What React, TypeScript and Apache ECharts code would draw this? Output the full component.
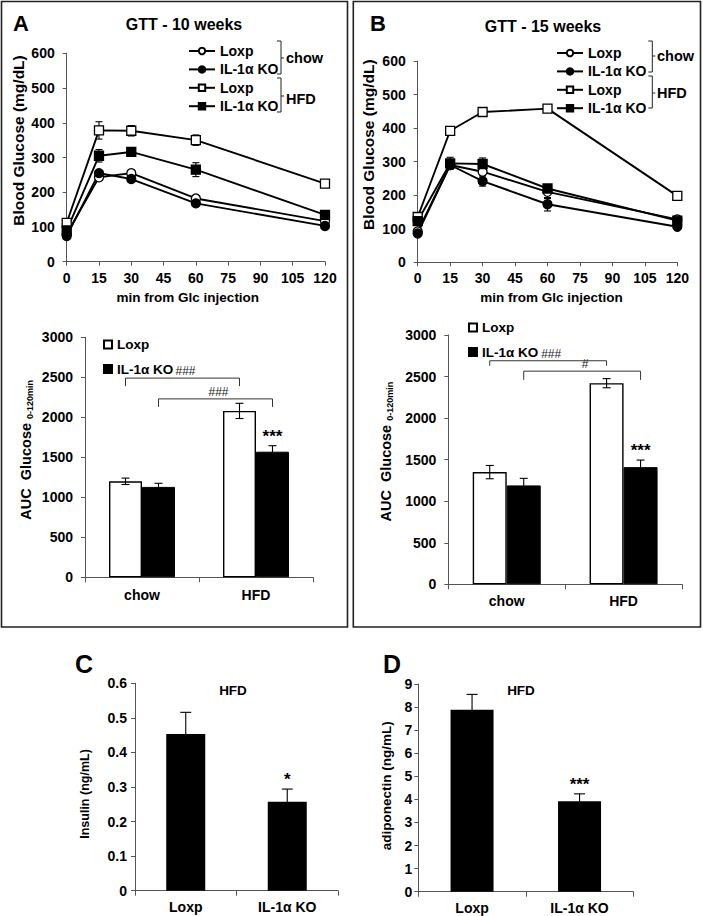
import React, { useEffect, useRef } from 'react';
import * as echarts from 'echarts';

// ---------------- data ----------------
const timePoints = [0, 15, 30, 60, 120];

const gtt10LoxpChow = [80, 243, 255, 182, 117];
const gtt10LoxpChowErr = [4, 8, 10, 6, 5];
const gtt10KoChow = [74, 255, 238, 168, 103];
const gtt10KoChowErr = [4, 7, 8, 8, 5];
const gtt10LoxpHfd = [112, 378, 377, 350, 225];
const gtt10LoxpHfdErr = [5, 25, 15, 15, 6];
const gtt10KoHfd = [90, 305, 316, 265, 135];
const gtt10KoHfdErr = [5, 18, 6, 20, 6];

const gtt15LoxpChow = [92, 290, 270, 210, 128];
const gtt15LoxpChowErr = [5, 10, 10, 20, 5];
const gtt15KoChow = [86, 290, 242, 173, 106];
const gtt15KoChowErr = [5, 10, 15, 20, 5];
const gtt15LoxpHfd = [135, 392, 448, 458, 198];
const gtt15LoxpHfdErr = [5, 10, 5, 5, 6];
const gtt15KoHfd = [123, 295, 293, 220, 124];
const gtt15KoHfdErr = [8, 18, 18, 8, 6];

const dietGroups = ['chow', 'HFD'];
const auc10Loxp = [1200, 2080];
const auc10LoxpErr = [40, 95];
const auc10Ko = [1130, 1570];
const auc10KoErr = [45, 75];
const auc10KoStars = ['', '***'];
const auc15Loxp = [1350, 2420];
const auc15LoxpErr = [80, 55];
const auc15Ko = [1190, 1410];
const auc15KoErr = [85, 85];
const auc15KoStars = ['', '***'];

const auc10Brackets = [
  { genotype: 'Loxp', from: 0, to: 1, level: 2490, foot: 2390, label: '###' },
  { genotype: 'KO', from: 0, to: 1, level: 2230, foot: 2130, label: '###' },
];
const auc15Brackets = [
  { genotype: 'Loxp', from: 0, to: 1, level: 2690, foot: 2630, label: '###' },
  { genotype: 'KO', from: 0, to: 1, level: 2565, foot: 2460, label: '#' },
];

const genotypes = ['Loxp', 'IL-1α KO'];
const insulinHfd = [0.453, 0.257];
const insulinHfdErr = [0.063, 0.037];
const insulinStars = ['', '*'];
const adiponectinHfd = [7.88, 3.92];
const adiponectinHfdErr = [0.67, 0.32];
const adiponectinStars = ['', '***'];

// ---------------- styling helpers ----------------
const FONT = '"Liberation Sans", Arial, Helvetica, sans-serif';
const BLACK = '#000';
const AXIS = '#555';

const stripSuffix = (n: string) => n.split('|')[0];

function errRenderer(offset: number, cap: number, stars: string[] | null) {
  return (params: any, api: any) => {
    const c = api.value(0);
    const top = api.coord([c, api.value(2)]);
    const bot = api.coord([c, api.value(1)]);
    const x = top[0] + offset;
    const h = cap / 2;
    const style = { stroke: BLACK, lineWidth: 1.1 };
    const children: any[] = [
      { type: 'line', shape: { x1: x, y1: top[1], x2: x, y2: bot[1] }, style },
      { type: 'line', shape: { x1: x - h, y1: top[1], x2: x + h, y2: top[1] }, style },
      { type: 'line', shape: { x1: x - h, y1: bot[1], x2: x + h, y2: bot[1] }, style },
    ];
    const star = stars ? stars[params.dataIndex] : '';
    if (star) {
      children.push({
        type: 'text',
        x,
        y: top[1] - 1,
        style: {
          text: star,
          font: `bold 17px ${FONT}`,
          fill: BLACK,
          textAlign: 'center',
          textVerticalAlign: 'bottom',
          align: 'center',
          verticalAlign: 'bottom',
        },
      });
    }
    return { type: 'group', children };
  };
}

function lineSeries(name: string, values: number[], idx: number, symbol: string, filled: boolean) {
  return {
    type: 'line',
    name,
    xAxisIndex: idx,
    yAxisIndex: idx,
    data: timePoints.map((t, i) => [t, values[i]]),
    symbol,
    symbolSize: 9,
    showAllSymbol: true,
    z: 4,
    lineStyle: { color: BLACK, width: 1.9 },
    itemStyle: { color: filled ? BLACK : '#fff', borderColor: BLACK, borderWidth: 1.3 },
    emphasis: { disabled: true },
  };
}

function lineErrSeries(values: number[], errs: number[], idx: number) {
  return {
    type: 'custom',
    xAxisIndex: idx,
    yAxisIndex: idx,
    z: 3,
    silent: true,
    data: timePoints.map((t, i) => [t, values[i] - errs[i], values[i] + errs[i]]),
    encode: { x: 0, y: [1, 2] },
    renderItem: errRenderer(0, 7, null),
  };
}

function barErrSeries(values: number[], errs: number[], idx: number, offset: number, cap: number, stars: string[] | null) {
  return {
    type: 'custom',
    xAxisIndex: idx,
    yAxisIndex: idx,
    z: 5,
    silent: true,
    data: values.map((v, i) => [i, v - errs[i], v + errs[i]]),
    encode: { x: 0, y: [1, 2] },
    renderItem: errRenderer(offset, cap, stars),
  };
}

function bracketSeries(brackets: any[], idx: number, barWidth: number) {
  return {
    type: 'custom',
    xAxisIndex: idx,
    yAxisIndex: idx,
    z: 5,
    silent: true,
    data: brackets.map((b) => [b.from, b.to, b.level, b.foot]),
    encode: { x: [0, 1], y: [2, 3] },
    renderItem: (params: any, api: any) => {
      const b = brackets[params.dataIndex];
      const off = b.genotype === 'Loxp' ? -barWidth / 2 : barWidth / 2;
      const p1 = api.coord([api.value(0), api.value(2)]);
      const p2 = api.coord([api.value(1), api.value(2)]);
      const f = api.coord([api.value(0), api.value(3)]);
      const x1 = p1[0] + off;
      const x2 = p2[0] + off;
      const y = p1[1];
      const yf = f[1];
      return {
        type: 'group',
        children: [
          {
            type: 'polyline',
            shape: { points: [[x1, yf], [x1, y], [x2, y], [x2, yf]] },
            style: { stroke: '#333', lineWidth: 1, fill: 'none' },
          },
          {
            type: 'text',
            x: (x1 + x2) / 2 + 3,
            y: y - 1,
            style: {
              text: b.label,
              font: `12px ${FONT}`,
              fill: '#222',
              textAlign: 'center',
              textVerticalAlign: 'bottom',
              align: 'center',
              verticalAlign: 'bottom',
            },
          },
        ],
      };
    },
  };
}

const plain = (v: number) => String(v);
const tickLabel = (margin: number, size = 14) => ({
  color: BLACK,
  fontFamily: FONT,
  fontWeight: 'bold',
  fontSize: size,
  margin,
});
const axisLine = { show: true, lineStyle: { color: AXIS, width: 1 } };
const nameStyle = (size: number, padding: number[] = [0, 0, 0, 0]) => ({
  color: BLACK,
  fontFamily: FONT,
  fontWeight: 'bold',
  fontSize: size,
  padding,
});

function gttAxes(idx: number, xNamePad: number[]) {
  return {
    x: {
      type: 'value',
      gridIndex: idx,
      min: 0,
      max: 120,
      interval: 15,
      axisLine,
      axisTick: { show: true, length: 4, lineStyle: { color: AXIS } },
      splitLine: { show: false },
      axisLabel: { ...tickLabel(9), formatter: plain },
      name: 'min from Glc injection',
      nameLocation: 'middle',
      nameGap: 29,
      nameTextStyle: nameStyle(13.5, xNamePad),
    },
    y: {
      type: 'value',
      gridIndex: idx,
      min: 0,
      max: 600,
      interval: 100,
      axisLine,
      axisTick: { show: true, length: 4, lineStyle: { color: AXIS } },
      splitLine: { show: false },
      axisLabel: { ...tickLabel(12), formatter: plain },
      name: 'Blood Glucose (mg/dL)',
      nameLocation: 'middle',
      nameGap: 40,
      nameTextStyle: nameStyle(15.5, [0, 0, 0, 34]),
    },
  };
}

function catAxis(idx: number, cats: string[], margin: number) {
  return {
    type: 'category',
    gridIndex: idx,
    data: cats,
    axisLine,
    axisTick: { show: true, length: 5, alignWithLabel: false, lineStyle: { color: AXIS } },
    axisLabel: tickLabel(margin, 14),
    splitLine: { show: false },
  };
}

function valAxis(idx: number, max: number, interval: number, margin: number, name: string, nameGap: number, nts: any) {
  return {
    type: 'value',
    gridIndex: idx,
    min: 0,
    max,
    interval,
    axisLine,
    axisTick: { show: true, length: 4, lineStyle: { color: AXIS } },
    splitLine: { show: false },
    axisLabel: { ...tickLabel(margin), formatter: plain },
    name,
    nameLocation: 'middle',
    nameGap,
    nameTextStyle: nts,
  };
}

const aucName = '{m|AUC  Glucose }{s|0-120min}';
const aucNameStyle = {
  padding: [0, 0, 0, 15],
  rich: {
    m: { fontFamily: FONT, fontWeight: 'bold', fontSize: 14.5, color: BLACK, lineHeight: 16 },
    s: { fontFamily: FONT, fontWeight: 'bold', fontSize: 9, color: BLACK, verticalAlign: 'bottom' },
  },
};

const grid = (left: number, top: number, width: number, height: number) => ({
  left,
  top,
  width,
  height,
  containLabel: false,
  outerBoundsMode: 'none',
});

// legend names (suffix after | is stripped for display)
const A = {
  loxpChow: 'Loxp|A-chow',
  koChow: 'IL-1α KO|A-chow',
  loxpHfd: 'Loxp|A-HFD',
  koHfd: 'IL-1α KO|A-HFD',
};
const B = {
  loxpChow: 'Loxp|B-chow',
  koChow: 'IL-1α KO|B-chow',
  loxpHfd: 'Loxp|B-HFD',
  koHfd: 'IL-1α KO|B-HFD',
};
const barA = { loxp: 'Loxp|A-auc', ko: 'IL-1α KO|A-auc' };
const barB = { loxp: 'Loxp|B-auc', ko: 'IL-1α KO|B-auc' };

const legendText = { color: BLACK, fontFamily: FONT, fontWeight: 'bold', fontSize: 14, lineHeight: 13 };

function lineLegend(left: number, top: number, names: string[]) {
  return {
    orient: 'vertical',
    left,
    top,
    itemWidth: 26,
    itemHeight: 8,
    itemGap: 4.4,
    padding: 0,
    selectedMode: false,
    data: names,
    formatter: stripSuffix,
    textStyle: legendText,
  };
}
function barLegend(left: number, top: number, names: string[]) {
  return {
    orient: 'vertical',
    left,
    top,
    itemWidth: 8,
    itemHeight: 8,
    itemGap: 10.5,
    padding: 0,
    icon: 'rect',
    selectedMode: false,
    data: names,
    formatter: stripSuffix,
    textStyle: { ...legendText, fontSize: 13.5 },
  };
}

function gText(text: string, x: number, y: number, font: string, align = 'center') {
  return {
    type: 'text',
    x,
    y,
    silent: true,
    style: { text, font, fill: BLACK, textAlign: align, textVerticalAlign: 'middle' },
  };
}
function bracketGlyph(x: number, top: number, bottom: number, mid: number) {
  const style = { stroke: '#222', lineWidth: 1, fill: 'none' };
  return [
    { type: 'polyline', silent: true, shape: { points: [[x - 4, top], [x, top], [x, bottom], [x - 4, bottom]] }, style },
    { type: 'line', silent: true, shape: { x1: x, y1: mid, x2: x + 3, y2: mid }, style },
  ];
}

const BW_A = 33;
const BW_B = 34;

const gA = gttAxes(0, [0, 16, 0, 0]);
const gB = gttAxes(1, [0, 0, 0, 8]);

const option: any = {
  animation: false,
  backgroundColor: '#fff',
  textStyle: { fontFamily: FONT },
  grid: [
    grid(66.7, 53.3, 258.3, 208.4),
    grid(417.7, 61, 259.6, 201.3),
    grid(85, 337.3, 228, 240),
    grid(448.3, 335, 233.7, 249.3),
    grid(135, 683.3, 203, 207.4),
    grid(418.3, 684, 215, 207.7),
  ],
  xAxis: [
    gA.x,
    { ...gB.x, nameGap: 28.5 },
    catAxis(2, dietGroups, 11),
    catAxis(3, dietGroups, 10),
    catAxis(4, genotypes, 9),
    catAxis(5, genotypes, 9),
  ],
  yAxis: [
    gA.y,
    { ...gB.y, nameGap: 41 },
    valAxis(2, 3000, 500, 12, aucName, 51, aucNameStyle),
    valAxis(3, 3000, 500, 12, aucName, 54, { ...aucNameStyle, padding: [0, 0, 0, 16] }),
    valAxis(4, 0.6, 0.1, 8, 'Insulin (ng/mL)', 44, nameStyle(12.5, [0, 14, 0, 0])),
    valAxis(5, 9, 1, 6, 'adiponectin (ng/mL)', 25, nameStyle(13.5, [0, 0, 0, 4])),
  ],
  legend: [
    lineLegend(188, 44, [A.loxpChow, A.koChow, A.loxpHfd, A.koHfd]),
    lineLegend(556, 46, [B.loxpChow, B.koChow, B.loxpHfd, B.koHfd]),
    barLegend(103, 337.5, [barA.loxp, barA.ko]),
    barLegend(468, 320.5, [barB.loxp, barB.ko]),
  ],
  series: [
    // panel A - GTT 10 weeks
    lineErrSeries(gtt10LoxpChow, gtt10LoxpChowErr, 0),
    lineErrSeries(gtt10KoChow, gtt10KoChowErr, 0),
    lineErrSeries(gtt10LoxpHfd, gtt10LoxpHfdErr, 0),
    lineErrSeries(gtt10KoHfd, gtt10KoHfdErr, 0),
    lineSeries(A.loxpChow, gtt10LoxpChow, 0, 'circle', false),
    lineSeries(A.koChow, gtt10KoChow, 0, 'circle', true),
    lineSeries(A.loxpHfd, gtt10LoxpHfd, 0, 'rect', false),
    lineSeries(A.koHfd, gtt10KoHfd, 0, 'rect', true),
    // panel B - GTT 15 weeks
    lineErrSeries(gtt15LoxpChow, gtt15LoxpChowErr, 1),
    lineErrSeries(gtt15KoChow, gtt15KoChowErr, 1),
    lineErrSeries(gtt15LoxpHfd, gtt15LoxpHfdErr, 1),
    lineErrSeries(gtt15KoHfd, gtt15KoHfdErr, 1),
    lineSeries(B.loxpChow, gtt15LoxpChow, 1, 'circle', false),
    lineSeries(B.koChow, gtt15KoChow, 1, 'circle', true),
    lineSeries(B.loxpHfd, gtt15LoxpHfd, 1, 'rect', false),
    lineSeries(B.koHfd, gtt15KoHfd, 1, 'rect', true),
    // panel A - AUC
    {
      type: 'bar', name: barA.loxp, xAxisIndex: 2, yAxisIndex: 2, data: auc10Loxp,
      barWidth: BW_A, barGap: '0%',
      itemStyle: { color: '#fff', borderColor: BLACK, borderWidth: 1.4 },
      emphasis: { disabled: true },
    },
    {
      type: 'bar', name: barA.ko, xAxisIndex: 2, yAxisIndex: 2, data: auc10Ko,
      barWidth: BW_A, barGap: '0%',
      itemStyle: { color: BLACK, borderColor: BLACK, borderWidth: 1 },
      emphasis: { disabled: true },
    },
    barErrSeries(auc10Loxp, auc10LoxpErr, 2, -BW_A / 2, 8, null),
    barErrSeries(auc10Ko, auc10KoErr, 2, BW_A / 2, 8, auc10KoStars),
    bracketSeries(auc10Brackets, 2, BW_A),
    // panel B - AUC
    {
      type: 'bar', name: barB.loxp, xAxisIndex: 3, yAxisIndex: 3, data: auc15Loxp,
      barWidth: BW_B, barGap: '0%',
      itemStyle: { color: '#fff', borderColor: BLACK, borderWidth: 1.4 },
      emphasis: { disabled: true },
    },
    {
      type: 'bar', name: barB.ko, xAxisIndex: 3, yAxisIndex: 3, data: auc15Ko,
      barWidth: BW_B, barGap: '0%',
      itemStyle: { color: BLACK, borderColor: BLACK, borderWidth: 1 },
      emphasis: { disabled: true },
    },
    barErrSeries(auc15Loxp, auc15LoxpErr, 3, -BW_B / 2, 8, null),
    barErrSeries(auc15Ko, auc15KoErr, 3, BW_B / 2, 8, auc15KoStars),
    bracketSeries(auc15Brackets, 3, BW_B),
    // panel C - insulin
    {
      type: 'bar', name: 'Insulin', xAxisIndex: 4, yAxisIndex: 4, data: insulinHfd,
      barWidth: 39, itemStyle: { color: BLACK }, emphasis: { disabled: true },
    },
    barErrSeries(insulinHfd, insulinHfdErr, 4, 0, 11, insulinStars),
    // panel D - adiponectin
    {
      type: 'bar', name: 'Adiponectin', xAxisIndex: 5, yAxisIndex: 5, data: adiponectinHfd,
      barWidth: 43, itemStyle: { color: BLACK }, emphasis: { disabled: true },
    },
    barErrSeries(adiponectinHfd, adiponectinHfdErr, 5, 0, 11, adiponectinStars),
  ],
  graphic: [
    {
      type: 'rect', silent: true,
      shape: { x: 1.5, y: 1.5, width: 346, height: 625.5 },
      style: { fill: 'none', stroke: '#222', lineWidth: 1.6 },
    },
    {
      type: 'rect', silent: true,
      shape: { x: 353.3, y: 1.5, width: 347.2, height: 625.5 },
      style: { fill: 'none', stroke: '#222', lineWidth: 1.6 },
    },
    gText('A', 13, 23, `bold 22px ${FONT}`, 'left'),
    gText('B', 370, 23, `bold 22px ${FONT}`, 'left'),
    gText('C', 75, 664, `bold 25px ${FONT}`, 'left'),
    gText('D', 383, 664, `bold 25px ${FONT}`, 'left'),
    gText('GTT - 10 weeks', 184, 24, `bold 16px ${FONT}`),
    gText('GTT - 15 weeks', 543, 26, `bold 16px ${FONT}`),
    gText('HFD', 233, 690, `bold 13.5px ${FONT}`),
    gText('HFD', 521, 690, `bold 13.5px ${FONT}`),
    ...bracketGlyph(281, 41, 74, 58),
    ...bracketGlyph(281, 78, 112, 96),
    gText('chow', 286, 58, `bold 14.5px ${FONT}`, 'left'),
    gText('HFD', 286, 99, `bold 14.5px ${FONT}`, 'left'),
    ...bracketGlyph(652.3, 41, 72, 56),
    ...bracketGlyph(652.3, 76, 108, 93),
    gText('chow', 657, 56, `bold 14.5px ${FONT}`, 'left'),
    gText('HFD', 657, 93, `bold 14.5px ${FONT}`, 'left'),
  ],
};

export default function App() {
  const ref = useRef<HTMLDivElement>(null);
  useEffect(() => {
    if (!ref.current) return;
    const chart = echarts.init(ref.current, null, { renderer: 'svg' });
    chart.setOption(option);
    return () => {
      chart.dispose();
    };
  }, []);
  return (
    <div
      ref={ref}
      style={{ position: 'absolute', left: 0, top: 0, width: 703, height: 916, background: '#fff' }}
    />
  );
}
